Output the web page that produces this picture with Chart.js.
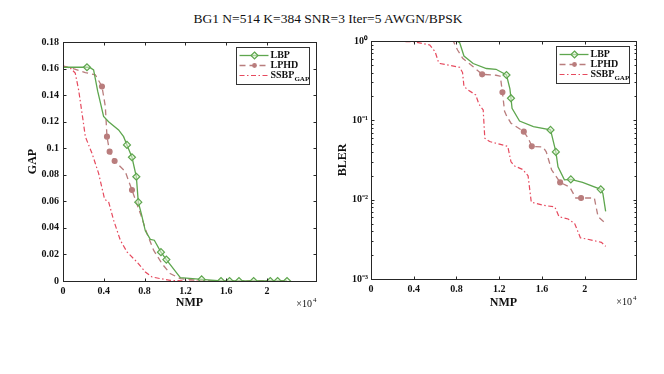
<!DOCTYPE html>
<html>
<head>
<meta charset="utf-8">
<script src="https://cdn.jsdelivr.net/npm/chart.js@4.4.1/dist/chart.umd.min.js"></script>
<style>
  body { margin: 0; width: 664px; height: 374px; background: #fff; position: relative; overflow: hidden; font-family: "Liberation Serif", serif; }
  #title { position: absolute; top: 11px; left: -4px; width: 664px; text-align: center; font-size: 13.5px; color: #111; }
  .panel { position: absolute; top: 0; width: 332px; height: 374px; }
</style>
</head>
<body>
<div id="title">BG1 N=514 K=384 SNR=3 Iter=5 AWGN/BPSK</div>
<div class="panel" style="left:0"><canvas id="gapChart" width="332" height="374"></canvas></div>
<div class="panel" style="left:332px"><canvas id="blerChart" width="332" height="374"></canvas></div>
<script>
// NMP is given in units of 10^4 (axis shows "x10^4")
const nmpTicks = [0, 0.4, 0.8, 1.2, 1.6, 2];
const gapTicks = [0, 0.02, 0.04, 0.06, 0.08, 0.1, 0.12, 0.14, 0.16, 0.18];
const blerTicks = [0.001, 0.01, 0.1, 1];
const seriesNames = ['LBP', 'LPHD', 'SSBP'];

// GAP vs NMP
const lbpGapX = [0, 0.235, 0.27, 0.30, 0.34, 0.398, 0.447, 0.545, 0.594, 0.627, 0.676, 0.719, 0.738, 0.77, 0.807, 0.856, 0.895, 0.96, 1.013, 1.15, 1.359, 1.549, 1.633, 1.725, 1.869, 2.032, 2.104, 2.196];
const lbpGapY = [0.161, 0.161, 0.1605, 0.159, 0.143, 0.124, 0.120, 0.1138, 0.1087, 0.1025, 0.0932, 0.0785, 0.0594, 0.050, 0.0378, 0.0313, 0.0307, 0.0217, 0.0161, 0.0026, 0.0012, 0, 0, 0, 0, 0, 0, 0];
const lbpGapMarks = [1, 9, 10, 11, 12, 17, 18, 20, 21, 22, 23, 24, 25, 26, 27];

const lphdGapX = [0, 0.10, 0.219, 0.317, 0.382, 0.415, 0.431, 0.457, 0.506, 0.611, 0.676, 0.758, 0.823, 0.888, 0.97, 1.05, 1.15, 1.28, 1.5, 2.196];
const lphdGapY = [0.1615, 0.160, 0.157, 0.1553, 0.1465, 0.1314, 0.1087, 0.0974, 0.0904, 0.0823, 0.0685, 0.0509, 0.0358, 0.0232, 0.0131, 0.0056, 0.0018, 0.0008, 0, 0];
const lphdGapMarks = [4, 6, 7, 8, 10];

const ssbpGapX = [0, 0.072, 0.12, 0.153, 0.196, 0.219, 0.284, 0.349, 0.408, 0.447, 0.496, 0.562, 0.627, 0.725, 0.807, 0.873, 0.954, 1.05, 1.2, 2.196];
const ssbpGapY = [0.162, 0.1604, 0.1566, 0.144, 0.1213, 0.1087, 0.0962, 0.0811, 0.0615, 0.0597, 0.0458, 0.0307, 0.0219, 0.0143, 0.0068, 0.003, 0.0018, 0.0005, 0, 0];

// BLER vs NMP
const lbpBlerX = [0, 0.80, 0.83, 0.87, 0.956, 1.08, 1.17, 1.268, 1.30, 1.31, 1.32, 1.39, 1.52, 1.68, 1.73, 1.75, 1.81, 1.87, 1.98, 2.15, 2.17, 2.196];
const lbpBlerY = [1, 1, 0.95, 0.647, 0.52, 0.45, 0.44, 0.373, 0.25, 0.19, 0.142, 0.098, 0.0835, 0.0757, 0.040, 0.026, 0.0178, 0.018, 0.0165, 0.0135, 0.012, 0.0071];
const lbpBlerMarks = [7, 9, 13, 14, 17, 19];

const lphdBlerX = [0, 0.77, 0.81, 0.86, 0.956, 1.04, 1.17, 1.21, 1.23, 1.25, 1.27, 1.31, 1.43, 1.47, 1.505, 1.61, 1.64, 1.69, 1.77, 1.86, 1.916, 1.966, 2.09, 2.125, 2.196];
const lphdBlerY = [1, 1, 0.77, 0.6, 0.475, 0.38, 0.37, 0.36, 0.226, 0.13, 0.113, 0.092, 0.072, 0.06, 0.047, 0.046, 0.04, 0.0238, 0.0165, 0.0144, 0.0105, 0.0105, 0.0105, 0.0061, 0.005];
const lphdBlerMarks = [5, 8, 12, 14, 18, 21];

const ssbpBlerX = [0, 0.4, 0.55, 0.6, 0.63, 0.645, 0.83, 0.857, 0.87, 0.91, 0.98, 1.01, 1.05, 1.065, 1.11, 1.28, 1.31, 1.345, 1.42, 1.47, 1.5, 1.61, 1.72, 1.76, 1.845, 1.906, 1.96, 2.015, 2.156, 2.196];
const ssbpBlerY = [1, 0.98, 0.89, 0.734, 0.55, 0.52, 0.466, 0.4, 0.266, 0.241, 0.209, 0.16, 0.135, 0.0596, 0.054, 0.047, 0.030, 0.0265, 0.024, 0.02, 0.0093, 0.0085, 0.0081, 0.0061, 0.0057, 0.005, 0.0033, 0.0032, 0.0029, 0.00258];

const GREEN = '#5ea64e';
const BROWN = '#b97d7d';
const RED = '#e64a5e';
const AXIS = '#262626';
const SERIF = '"Liberation Serif", "Times New Roman", serif';

const toPoints = (xs, ys) => xs.map((x, i) => ({ x: x, y: ys[i] }));

function lbpSet(xs, ys, marks) {
  return {
    label: seriesNames[0], data: toPoints(xs, ys),
    borderColor: GREEN, borderWidth: 1.3,
    pointStyle: 'rectRot', pointBorderColor: GREEN, pointBorderWidth: 1.2,
    pointBackgroundColor: 'rgba(225,242,215,0.55)',
    pointRadius: c => marks.includes(c.dataIndex) ? 3.5 : 0
  };
}
function lphdSet(xs, ys, marks) {
  return {
    label: seriesNames[1], data: toPoints(xs, ys),
    borderColor: BROWN, borderWidth: 1.3, borderDash: [6, 4],
    pointStyle: 'circle', pointBorderColor: BROWN, pointBackgroundColor: BROWN,
    pointRadius: c => marks.includes(c.dataIndex) ? 2.4 : 0
  };
}
function ssbpSet(xs, ys) {
  return {
    label: seriesNames[2], data: toPoints(xs, ys),
    borderColor: RED, borderWidth: 1.2, borderDash: [5, 2.5, 1.5, 2.5],
    pointRadius: 0
  };
}

// MATLAB style box: frame, inward ticks, legend and x10^4 note
const matlabBox = {
  id: 'matlabBox',
  afterDraw(chart) {
    const { ctx, chartArea: a, scales: { x, y } } = chart;
    ctx.save();
    ctx.strokeStyle = AXIS;
    ctx.lineWidth = 1;
    ctx.setLineDash([]);
    const L = Math.round(a.left) + 0.5, R = Math.round(a.right) + 0.5;
    const T = Math.round(a.top) + 0.5, B = Math.round(a.bottom) + 0.5;
    ctx.strokeRect(L, T, R - L, B - T);
    ctx.beginPath();
    x.ticks.forEach(t => {
      const px = Math.round(x.getPixelForValue(t.value)) + 0.5;
      ctx.moveTo(px, B); ctx.lineTo(px, B - 3);
      ctx.moveTo(px, T); ctx.lineTo(px, T + 3);
    });
    y.ticks.forEach(t => {
      const py = Math.round(y.getPixelForValue(t.value)) + 0.5;
      ctx.moveTo(L, py); ctx.lineTo(L + 3, py);
      ctx.moveTo(R, py); ctx.lineTo(R - 3, py);
    });
    if (y.type === 'logarithmic') {
      for (let d = -3; d < 0; d++) {
        for (let m = 2; m <= 9; m++) {
          const py = Math.round(y.getPixelForValue(m * Math.pow(10, d))) + 0.5;
          ctx.moveTo(L, py); ctx.lineTo(L + 2, py);
          ctx.moveTo(R, py); ctx.lineTo(R - 2, py);
        }
      }
    }
    ctx.stroke();

    // x10^4 exponent
    ctx.fillStyle = '#111';
    ctx.font = '10px ' + SERIF;
    ctx.textBaseline = 'alphabetic';
    ctx.textAlign = 'right';
    ctx.fillText('\u00d710', a.right - 4, a.bottom + 26);
    ctx.font = '7px ' + SERIF;
    ctx.textAlign = 'left';
    ctx.fillText('4', a.right - 3, a.bottom + 21);

    // legend
    const bw = 73, bh = 37;
    const bx = Math.round(a.right - 7 - bw) + 0.5, by = Math.round(a.top + 5) + 0.5;
    ctx.fillStyle = '#fff';
    ctx.fillRect(bx, by, bw, bh);
    ctx.strokeStyle = '#333';
    ctx.lineWidth = 1;
    ctx.strokeRect(bx, by, bw, bh);
    const ds = chart.data.datasets;
    ds.forEach((d, i) => {
      const ly = by + 8 + i * 10;
      ctx.strokeStyle = d.borderColor;
      ctx.lineWidth = d.borderWidth;
      ctx.setLineDash(d.borderDash || []);
      ctx.beginPath();
      ctx.moveTo(bx + 3, ly); ctx.lineTo(bx + 32, ly);
      ctx.stroke();
      ctx.setLineDash([]);
      const mx = bx + 18;
      if (d.pointStyle === 'rectRot') {
        ctx.beginPath();
        ctx.moveTo(mx, ly - 3.5); ctx.lineTo(mx + 3.5, ly); ctx.lineTo(mx, ly + 3.5); ctx.lineTo(mx - 3.5, ly); ctx.closePath();
        ctx.fillStyle = d.pointBackgroundColor; ctx.fill();
        ctx.lineWidth = 1.2; ctx.strokeStyle = d.pointBorderColor; ctx.stroke();
      } else if (i === 1) {
        ctx.beginPath(); ctx.arc(mx, ly, 2.4, 0, Math.PI * 2);
        ctx.fillStyle = d.pointBackgroundColor; ctx.fill();
      }
      ctx.fillStyle = '#111';
      ctx.textAlign = 'left';
      ctx.textBaseline = 'middle';
      ctx.font = 'bold 10px ' + SERIF;
      ctx.fillText(d.label, bx + 34, ly);
      if (i === 2) {
        const w = ctx.measureText(d.label).width;
        ctx.font = 'bold 7px ' + SERIF;
        ctx.fillText('GAP', bx + 34 + w, ly + 4);
      }
    });
    ctx.restore();
  }
};

const tickFont = { family: SERIF, size: 10, weight: 'bold' };
const titleFont = { family: SERIF, size: 12, weight: 'bold' };

function xAxis(height) {
  return {
    type: 'linear', min: 0, max: 2.48,
    grid: { display: false, drawTicks: false }, border: { display: false },
    afterBuildTicks: s => { s.ticks = nmpTicks.map(v => ({ value: v })); },
    afterFit: s => { s.height = height; },
    ticks: { font: tickFont, color: '#111', padding: 4, maxRotation: 0, autoSkip: false, callback: v => String(v) },
    title: { display: true, text: 'NMP', font: titleFont, color: '#111', padding: { top: 2, bottom: 4 } }
  };
}

function baseOptions(padding, yAxis, xHeight) {
  return {
    responsive: false, animation: false, events: [],
    layout: { padding: padding },
    plugins: { legend: { display: false }, tooltip: { enabled: false } },
    elements: { line: { tension: 0, fill: false } },
    scales: { x: xAxis(xHeight), y: yAxis }
  };
}

new Chart(document.getElementById('gapChart'), {
  type: 'line',
  data: {
    datasets: [
      lbpSet(lbpGapX, lbpGapY, lbpGapMarks),
      lphdSet(lphdGapX, lphdGapY, lphdGapMarks),
      ssbpSet(ssbpGapX, ssbpGapY)
    ]
  },
  options: baseOptions({ left: 22, right: 16, top: 42, bottom: 60 }, {
    type: 'linear', min: 0, max: 0.18,
    grid: { display: false, drawTicks: false }, border: { display: false },
    afterBuildTicks: s => { s.ticks = gapTicks.map(v => ({ value: v })); },
    afterFit: s => { s.width = 41; },
    ticks: { font: tickFont, color: '#111', padding: 4, callback: v => String(v) },
    title: { display: true, text: 'GAP', font: titleFont, color: '#111', padding: { top: 4, bottom: 2 } }
  }, 33),
  plugins: [matlabBox]
});

const sup = { '-': '\u207b', '0': '\u2070', '1': '\u00b9', '2': '\u00b2', '3': '\u00b3' };
new Chart(document.getElementById('blerChart'), {
  type: 'line',
  data: {
    datasets: [
      lbpSet(lbpBlerX, lbpBlerY, lbpBlerMarks),
      lphdSet(lphdBlerX, lphdBlerY, lphdBlerMarks),
      ssbpSet(ssbpBlerX, ssbpBlerY)
    ]
  },
  options: baseOptions({ left: 0, right: 28, top: 41, bottom: 60 }, {
    type: 'logarithmic', min: 0.001, max: 1,
    grid: { display: false, drawTicks: false }, border: { display: false },
    afterBuildTicks: s => { s.ticks = blerTicks.map(v => ({ value: v })); },
    afterFit: s => { s.width = 39; },
    ticks: {
      font: tickFont, color: '#111', padding: 3,
      callback: v => '10' + String(Math.round(Math.log10(v))).split('').map(c => sup[c]).join('')
    },
    title: { display: true, text: 'BLER', font: titleFont, color: '#111', padding: { top: 4, bottom: 2 } }
  }, 35),
  plugins: [matlabBox]
});
</script>
</body>
</html>
